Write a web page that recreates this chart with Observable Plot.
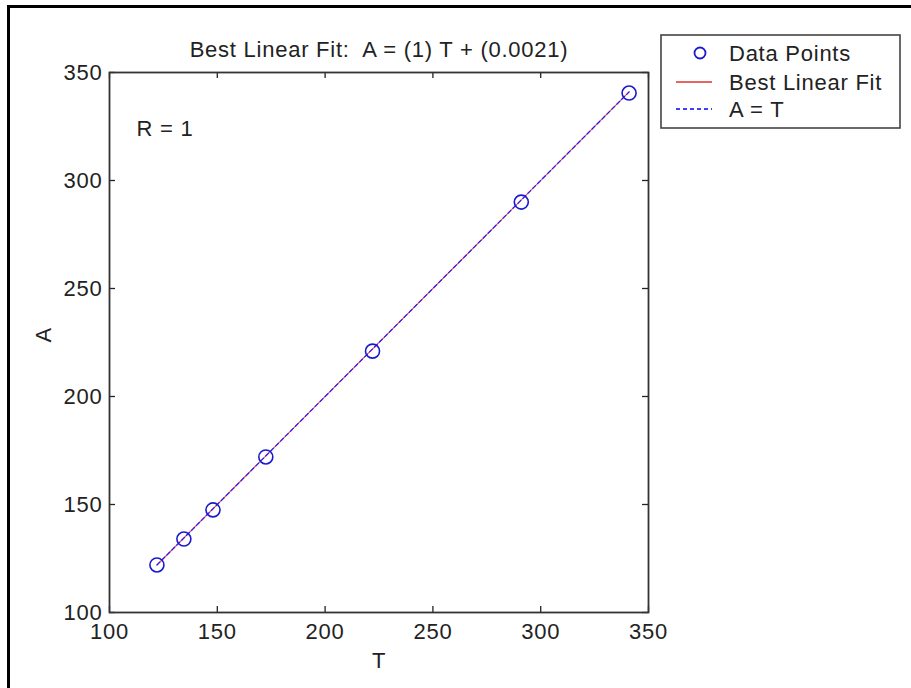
<!DOCTYPE html>
<html>
<head>
<meta charset="utf-8">
<script src="https://cdn.jsdelivr.net/npm/d3@7"></script>
<script src="https://cdn.jsdelivr.net/npm/@observablehq/plot@0.6"></script>
<style>
  html, body { margin: 0; padding: 0; background: #fff; }
  #wrap { position: relative; width: 911px; height: 688px; overflow: hidden; }
  #border { position: absolute; left: 7px; top: 5px; width: 1000px; height: 1000px;
            border-left: 3px solid #000; border-top: 3px solid #000; pointer-events: none; }
  svg { font-family: "Liberation Sans", Arial, Helvetica, sans-serif; }
  svg text { letter-spacing: 0.75px; }
</style>
</head>
<body>
<div id="wrap"><div id="border"></div></div>
<script>
// Data
const T = [122, 134.5, 148, 172.5, 222, 291, 341];
const A = [122, 134, 147.5, 172, 221, 290, 340.5];
const slope = 1;
const intercept = 0.0021;
const R = 1;
const xTicks = [100, 150, 200, 250, 300, 350];
const yTicks = [100, 150, 200, 250, 300, 350];
const titleText = "Best Linear Fit:  A = (1) T + (0.0021)";
const legendLabels = ["Data Points", "Best Linear Fit", "A = T"];

const points = T.map((t, i) => ({T: t, A: A[i]}));
const tMin = d3.min(T), tMax = d3.max(T);
const fitLine = [tMin, tMax].map(t => ({T: t, A: slope * t + intercept}));
const idLine = [tMin, tMax].map(t => ({T: t, A: t}));

const FS = 22;
const W = 911, H = 688, mL = 109, mR = 263, mT = 72, mB = 76;
const innerW = W - mL - mR, innerH = H - mT - mB;
const TL = 6;

const plot = Plot.plot({
  width: W, height: H,
  marginLeft: mL, marginRight: mR, marginTop: mT, marginBottom: mB,
  x: {domain: [100, 350]},
  y: {domain: [100, 350]},
  style: {fontFamily: "Liberation Sans, Arial, sans-serif", color: "#222", background: "transparent"},
  marks: [
    Plot.line(fitLine, {x: "T", y: "A", stroke: "#ff0000", strokeWidth: 1.2, strokeOpacity: 0.7}),
    Plot.line(idLine, {x: "T", y: "A", stroke: "#2020ff", strokeWidth: 1.2, strokeDasharray: "4,3"}),
    Plot.dot(points, {x: "T", y: "A", r: 7, stroke: "#1a1acc", strokeWidth: 1.6, fill: "none"}),
    // inward ticks on all four sides
    Plot.tickX(xTicks, {x: d => d, insetTop: innerH - TL, stroke: "#222", strokeWidth: 1.3}),
    Plot.tickX(xTicks, {x: d => d, insetBottom: innerH - TL, stroke: "#222", strokeWidth: 1.3}),
    Plot.tickY(yTicks, {y: d => d, insetRight: innerW - TL, stroke: "#222", strokeWidth: 1.3}),
    Plot.tickY(yTicks, {y: d => d, insetLeft: innerW - TL, stroke: "#222", strokeWidth: 1.3}),
    Plot.frame({stroke: "#333", strokeWidth: 1.8}),
    Plot.axisX(xTicks, {tickSize: 0, tickPadding: 11, fontSize: FS, fill: "#222", label: null}),
    Plot.axisY(yTicks, {tickSize: 0, tickPadding: 7, fontSize: FS, fill: "#222", label: null}),
    Plot.text([titleText], {frameAnchor: "top", dy: -31, fontSize: FS, fill: "#222"}),
    Plot.text(["T"], {frameAnchor: "bottom", dy: 55, fontSize: FS, fill: "#222"}),
    Plot.text(["A"], {frameAnchor: "left", dx: -66, rotate: -90, fontSize: FS, fill: "#222"}),
    Plot.text([`R = ${R}`], {frameAnchor: "top-left", dx: 27, dy: 48, fontSize: FS, fill: "#222", textAnchor: "start"})
  ]
});

document.getElementById("wrap").prepend(plot);

// Legend box
const svg = d3.select(plot);
const lg = svg.append("g").attr("font-size", FS).attr("fill", "#222").attr("text-anchor", "start");
lg.append("rect").attr("x", 661).attr("y", 35).attr("width", 239).attr("height", 93)
  .attr("fill", "#fff").attr("stroke", "#444").attr("stroke-width", 1.6);
const rows = [53, 82, 109];
lg.append("circle").attr("cx", 700).attr("cy", rows[0]).attr("r", 5.5)
  .attr("fill", "none").attr("stroke", "#1a1acc").attr("stroke-width", 1.8);
lg.append("line").attr("x1", 676).attr("x2", 712).attr("y1", rows[1]).attr("y2", rows[1])
  .attr("stroke", "#e03030").attr("stroke-width", 1.3);
lg.append("line").attr("x1", 676).attr("x2", 712).attr("y1", rows[2]).attr("y2", rows[2])
  .attr("stroke", "#0000ff").attr("stroke-width", 1.3).attr("stroke-dasharray", "4,3");
legendLabels.forEach((t, i) => {
  lg.append("text").attr("x", 729).attr("y", rows[i]).attr("dy", "0.35em").text(t);
});
</script>
</body>
</html>
